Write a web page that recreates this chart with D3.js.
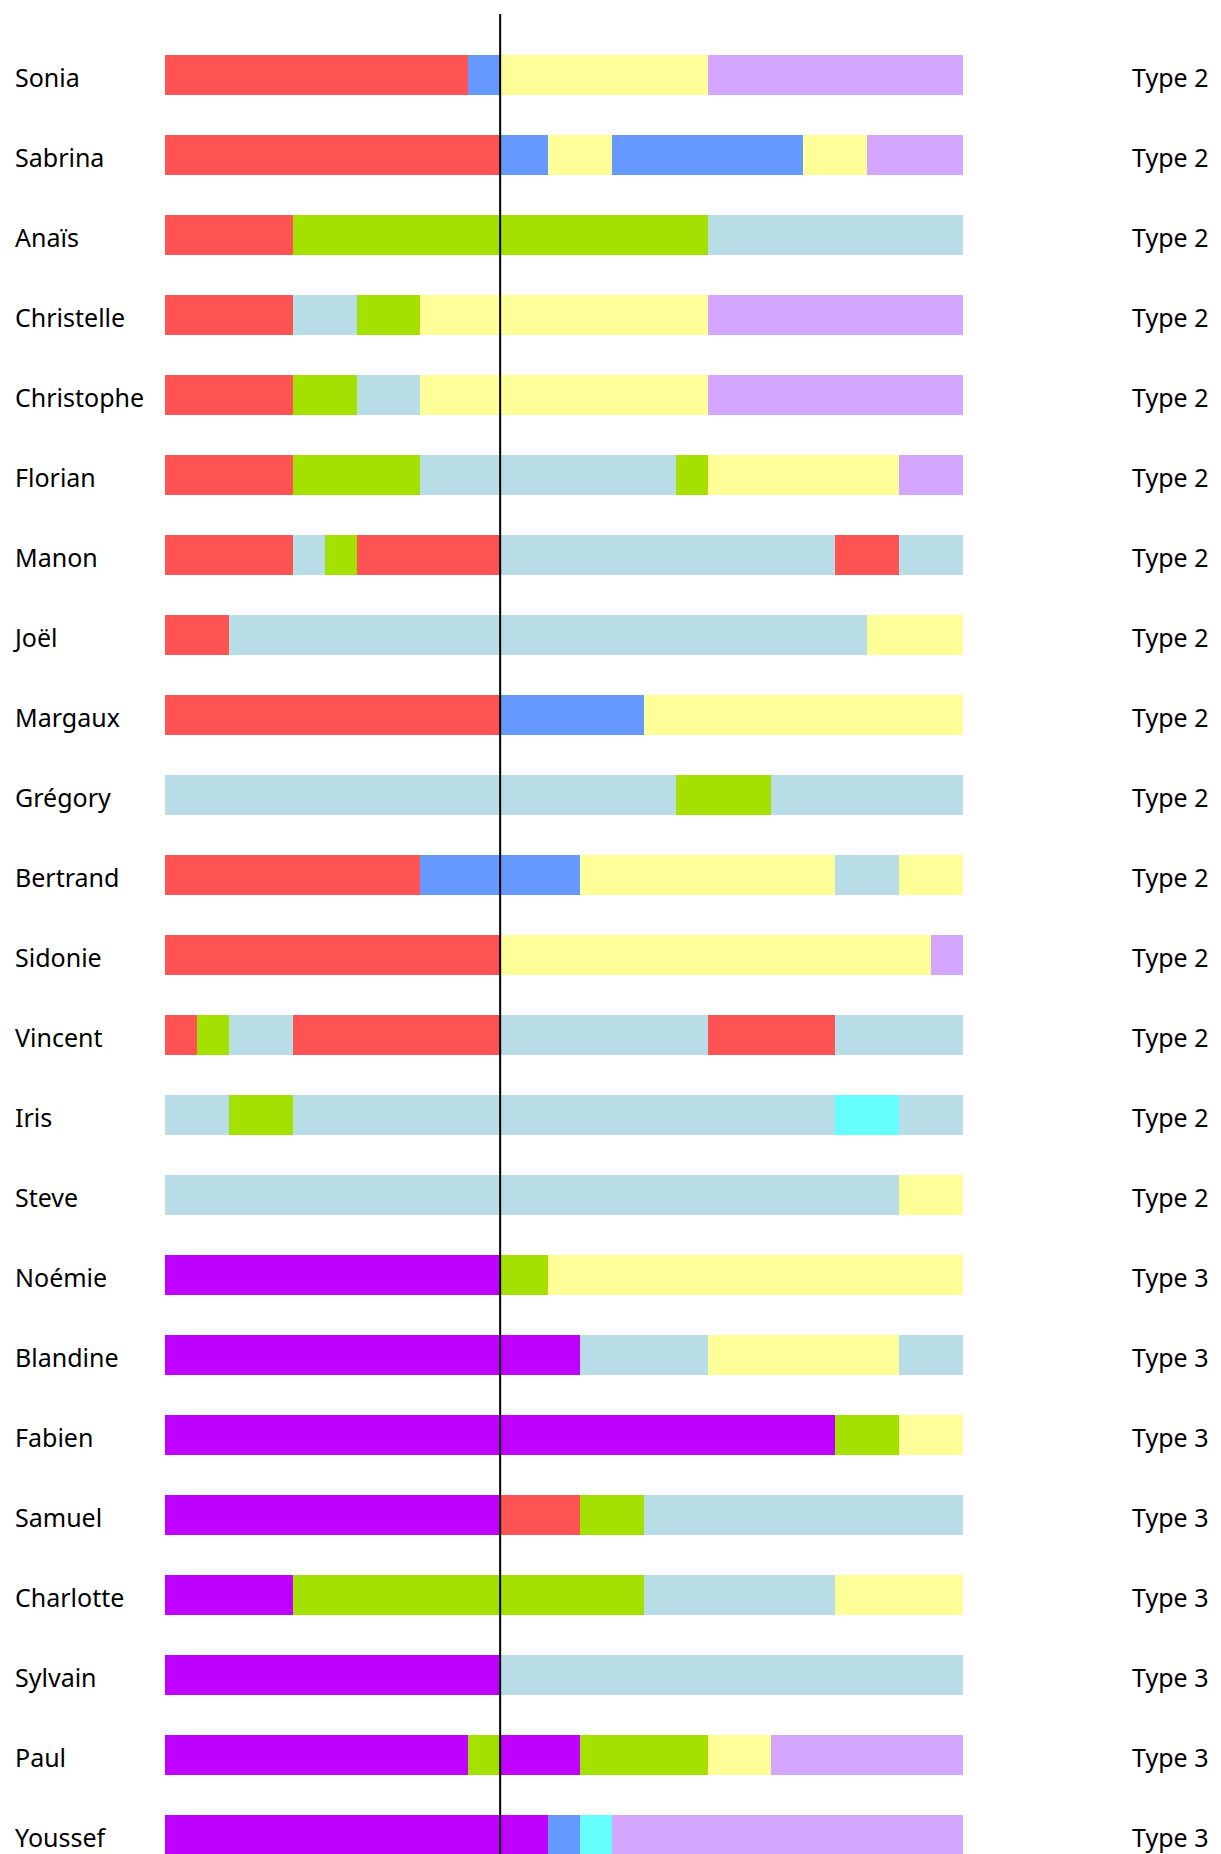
<!DOCTYPE html>
<html>
<head>
<meta charset="utf-8">
<script src="https://cdn.jsdelivr.net/npm/d3@7"></script>
<style>
  body { margin: 0; background: #fff; }
  text { font-family: "Noto Sans", sans-serif; font-size: 25px; fill: #000; }
</style>
</head>
<body>
<div id="chart"></div>
<script>
// people, top to bottom
var names = ["Sonia", "Sabrina", "Anaïs", "Christelle", "Christophe", "Florian", "Manon", "Joël",
  "Margaux", "Grégory", "Bertrand", "Sidonie", "Vincent", "Iris", "Steve", "Noémie", "Blandine",
  "Fabien", "Samuel", "Charlotte", "Sylvain", "Paul", "Youssef"];

var types = ["Type 2", "Type 2", "Type 2", "Type 2", "Type 2", "Type 2", "Type 2", "Type 2",
  "Type 2", "Type 2", "Type 2", "Type 2", "Type 2", "Type 2", "Type 2", "Type 3", "Type 3",
  "Type 3", "Type 3", "Type 3", "Type 3", "Type 3", "Type 3"];

// activity codes
var activities = ["R", "B", "Y", "L", "G", "S", "P", "C"];

// each row: [activity, duration in slots]
var segments = [
  [["R", 9.5], ["B", 1], ["Y", 6.5], ["L", 8]],
  [["R", 10.5], ["B", 1.5], ["Y", 2], ["B", 6], ["Y", 2], ["L", 3]],
  [["R", 4], ["G", 13], ["S", 8]],
  [["R", 4], ["S", 2], ["G", 2], ["Y", 9], ["L", 8]],
  [["R", 4], ["G", 2], ["S", 2], ["Y", 9], ["L", 8]],
  [["R", 4], ["G", 4], ["S", 8], ["G", 1], ["Y", 6], ["L", 2]],
  [["R", 4], ["S", 1], ["G", 1], ["R", 4.5], ["S", 10.5], ["R", 2], ["S", 2]],
  [["R", 2], ["S", 20], ["Y", 3]],
  [["R", 10.5], ["B", 4.5], ["Y", 10]],
  [["S", 16], ["G", 3], ["S", 6]],
  [["R", 8], ["B", 5], ["Y", 8], ["S", 2], ["Y", 2]],
  [["R", 10.5], ["Y", 13.5], ["L", 1]],
  [["R", 1], ["G", 1], ["S", 2], ["R", 6.5], ["S", 6.5], ["R", 4], ["S", 4]],
  [["S", 2], ["G", 2], ["S", 17], ["C", 2], ["S", 2]],
  [["S", 23], ["Y", 2]],
  [["P", 10.5], ["G", 1.5], ["Y", 13]],
  [["P", 13], ["S", 4], ["Y", 6], ["S", 2]],
  [["P", 21], ["G", 2], ["Y", 2]],
  [["P", 10.5], ["R", 2.5], ["G", 2], ["S", 10]],
  [["P", 4], ["G", 11], ["S", 6], ["Y", 4]],
  [["P", 10.5], ["S", 14.5]],
  [["P", 9.5], ["G", 1], ["P", 2.5], ["G", 4], ["Y", 2], ["L", 6]],
  [["P", 12], ["B", 1], ["C", 1], ["L", 11]]
];

var totalSlots = 25;
var markerSlot = 10.5;

var width = 1221, height = 1854;

var svg = d3.select("#chart").append("svg")
  .attr("width", width)
  .attr("height", height);

var x = d3.scaleLinear().domain([0, totalSlots]).range([165, 963]);

var y = d3.scaleBand()
  .domain(names)
  .range([35, 35 + 80 * names.length])
  .paddingInner(0.5)
  .paddingOuter(0.25);

var color = d3.scaleOrdinal()
  .domain(activities)
  .range(["#ff5252", "#6699ff", "#ffff99", "#d4a6ff", "#a4e000", "#b8dde7", "#bf00ff", "#66ffff"]);

// turn durations into start/end pairs
var rows = names.map(function (name, i) {
  var t = 0;
  return {
    name: name,
    type: types[i],
    parts: segments[i].map(function (s) {
      var p = { act: s[0], start: t, end: t + s[1] };
      t += s[1];
      return p;
    })
  };
});

var row = svg.selectAll("g.row")
  .data(rows)
  .enter().append("g")
  .attr("class", "row")
  .attr("transform", function (d) { return "translate(0," + y(d.name) + ")"; });

row.selectAll("rect")
  .data(function (d) { return d.parts; })
  .enter().append("rect")
  .attr("x", function (d) { return x(d.start); })
  .attr("width", function (d) { return x(d.end) - x(d.start); })
  .attr("height", y.bandwidth())
  .attr("fill", function (d) { return color(d.act); })
  .attr("shape-rendering", "crispEdges");

row.append("text")
  .attr("x", 15)
  .attr("y", y.bandwidth() / 2 + 12)
  .text(function (d) { return d.name; });

row.append("text")
  .attr("x", 1132)
  .attr("y", y.bandwidth() / 2 + 12)
  .text(function (d) { return d.type; });

svg.append("line")
  .attr("x1", x(markerSlot))
  .attr("x2", x(markerSlot))
  .attr("y1", 14)
  .attr("y2", height)
  .attr("stroke", "#000")
  .attr("stroke-width", 2);
</script>
</body>
</html>
